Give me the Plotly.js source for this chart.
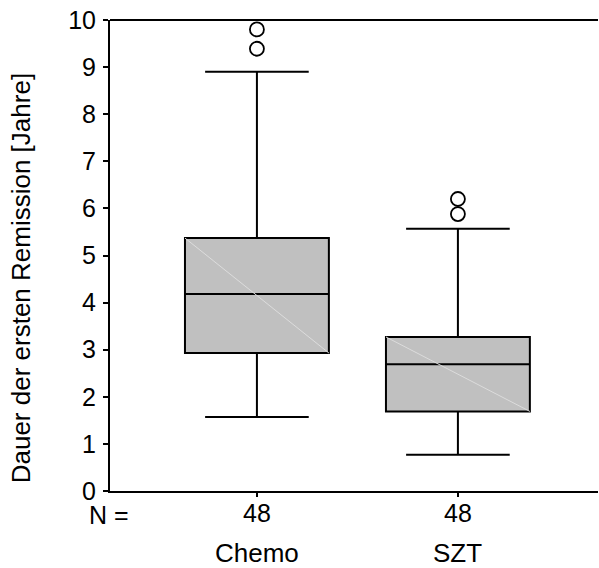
<!DOCTYPE html>
<html>
<head>
<meta charset="utf-8">
<script src="https://cdn.plot.ly/plotly-3.0.1.min.js"></script>
<style>html,body{margin:0;padding:0;background:#fff;}#chart{width:599px;height:568px;}</style>
</head>
<body>
<div id="chart"></div>
<script>
// ---- data ----
var categories = ["Chemo", "SZT"];
var nCounts = ["48", "48"];
var q1Vals = [2.93, 1.69];
var medianVals = [4.18, 2.69];
var q3Vals = [5.37, 3.27];
var lowerWhisker = [1.57, 0.77];
var upperWhisker = [8.90, 5.57];
var outliersChemo = [9.80, 9.39];
var outliersSZT = [6.20, 5.88];
var yTickVals = [0, 1, 2, 3, 4, 5, 6, 7, 8, 9, 10];

var pos = categories.map(function (c, i) { return i; });
var boxWidth = 0.716;
var font = "Liberation Sans, Arial, Helvetica, sans-serif";

var traces = [];
traces.push({
  type: "box",
  x: pos,
  q1: q1Vals,
  median: medianVals,
  q3: q3Vals,
  lowerfence: lowerWhisker,
  upperfence: upperWhisker,
  boxpoints: false,
  width: boxWidth,
  whiskerwidth: 0.72,
  fillcolor: "#c0c0c0",
  line: { color: "#000000", width: 2 },
  hoverinfo: "skip",
  showlegend: false
});
// faint diagonal artifact inside boxes
pos.forEach(function (p, i) {
  traces.push({
    type: "scatter", mode: "lines",
    x: [p - boxWidth / 2, p + boxWidth / 2],
    y: [q3Vals[i], q1Vals[i]],
    line: { color: "#dcdcdc", width: 1 },
    hoverinfo: "skip", showlegend: false
  });
});
var outlierSets = [outliersChemo, outliersSZT];
outlierSets.forEach(function (vals, i) {
  traces.push({
    type: "scatter", mode: "markers",
    x: vals.map(function () { return pos[i]; }),
    y: vals,
    marker: { symbol: "circle-open", size: 14, color: "#000", line: { width: 1.8, color: "#000" } },
    cliponaxis: false,
    hoverinfo: "skip", showlegend: false
  });
});

var annotations = [];
categories.forEach(function (c, i) {
  annotations.push({
    text: c, x: pos[i], xref: "x", y: -0.132, yref: "paper",
    yanchor: "middle", xanchor: "center", showarrow: false,
    font: { family: font, size: 26, color: "#000" }
  });
});
annotations.push({
  text: "N =", x: (87 - 110) / 488, xref: "paper", y: -0.05, yref: "paper",
  showarrow: false, xanchor: "left", yanchor: "middle",
  font: { family: font, size: 25, color: "#000" }
});
annotations.push({
  text: "Dauer der ersten Remission [Jahre]",
  x: -0.182, xref: "paper", y: 0.452, yref: "paper",
  textangle: -90, showarrow: false, xanchor: "center", yanchor: "middle",
  font: { family: font, size: 26, color: "#000" }
});

var layout = {
  width: 599, height: 568,
  margin: { l: 110, r: 1, t: 20, b: 77 },
  paper_bgcolor: "#fff", plot_bgcolor: "#fff",
  showlegend: false,
  font: { family: font, size: 25, color: "#000" },
  xaxis: {
    range: [-0.731, 1.697],
    tickvals: pos, ticktext: nCounts,
    ticks: "outside", ticklen: 4, tickwidth: 2, tickcolor: "#000",
    ticklabelstandoff: -5,
    showline: true, linecolor: "#000", linewidth: 2,
    showgrid: false, zeroline: false,
    tickfont: { family: font, size: 25, color: "#000" },
    fixedrange: true
  },
  yaxis: {
    range: [0, 10],
    tickvals: yTickVals,
    ticks: "outside", ticklen: 5, tickwidth: 2, tickcolor: "#000",
    ticklabelstandoff: 2,
    showline: true, linecolor: "#000", linewidth: 2, mirror: false,
    showgrid: false, zeroline: false,
    tickfont: { family: font, size: 25, color: "#000" },
    fixedrange: true
  },
  shapes: [{
    type: "line", xref: "paper", yref: "paper", x0: 0, x1: 1, y0: 1, y1: 1,
    line: { color: "#000", width: 2 }
  }],
  annotations: annotations
};

Plotly.newPlot("chart", traces, layout, { staticPlot: true, displayModeBar: false });
</script>
</body>
</html>
